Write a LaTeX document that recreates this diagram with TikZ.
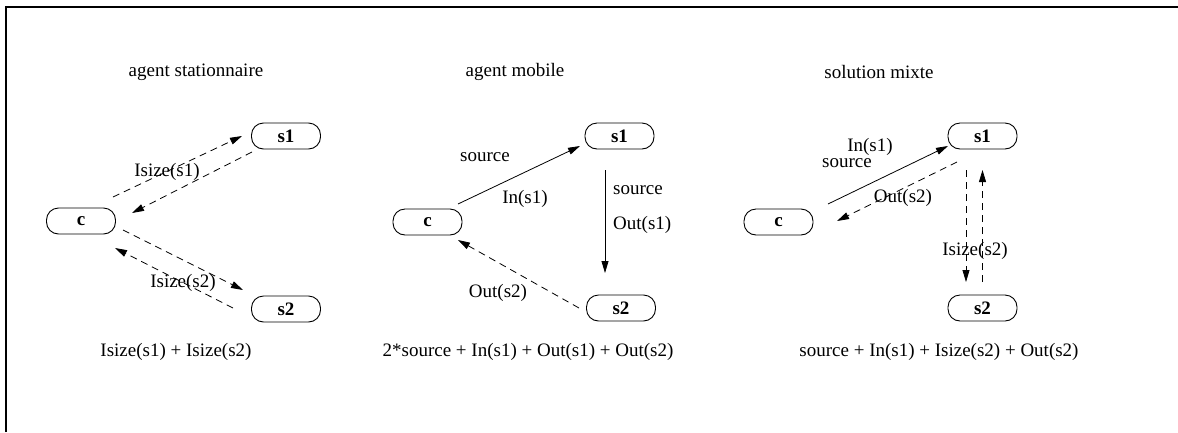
\documentclass[tikz,border=0pt]{standalone}
\usepackage{fontspec}
\setmainfont{Liberation Serif}
\usetikzlibrary{arrows.meta,calc}
\tikzset{
  host/.style={draw, line width=0.9pt, rounded corners=12pt, minimum width=69pt,
    minimum height=26pt, inner sep=0pt, font=\fontsize{19}{22}\selectfont\bfseries},
  lbl/.style={inner sep=0pt, font=\fontsize{19}{22}\selectfont},
  msg/.style={line width=0.8pt, -{Triangle[length=12pt,width=7pt]}},
  dmsg/.style={msg, dash pattern=on 7pt off 5pt}
}
\begin{document}
\begin{tikzpicture}[x=1pt,y=-1pt]
\useasboundingbox (0,0) rectangle (1178,432);
% outer frame
\draw[line width=2.2pt] (6,432) -- (6,7) -- (1178,7);

% ---- agent stationnaire ----
\node[lbl] (t1) at (196,72) {agent stationnaire};
\node[host] (c1) at (81,221) {c};
\node[host] (s1a) at (286,136) {s1};
\node[host] (s2a) at (286,309) {s2};
\draw[dmsg] ($(c1)+(32,-24)$) -- ($(s1a)+(-44,0)$);
\draw[dmsg] ($(s1a)+(-34,16)$) -- ($(c1)+(51,-8)$);
\draw[dmsg] ($(c1)+(42,9)$) -- ($(s2a)+(-43,-19)$);
\draw[dmsg] ($(s2a)+(-53,-1)$) -- ($(c1)+(34,27)$);
\node[lbl] (l1) at (167,172) {Isize(s1)};
\node[lbl] (l2) at (183,283) {Isize(s2)};
\node[lbl] (f1) at (176,352) {Isize(s1) + Isize(s2)};

% ---- agent mobile ----
\node[lbl] (t2) at (515,72) {agent mobile};
\node[host] (c2) at (427.5,222) {c};
\node[host] (s1b) at (619.5,136) {s1};
\node[host] (s2b) at (621,308) {s2};
\draw[msg] ($(c2)+(30.5,-18)$) -- ($(s1b)+(-39.5,10)$);
\draw[msg] ($(s1b)+(-14.5,34)$) -- ($(s1b)+(-14.5,137)$);
\draw[dmsg] ($(s2b)+(-42,0)$) -- ($(c2)+(30.5,18)$);
\node[lbl] (l3) at (485,157) {source};
\node[lbl] (l4) at (525,199) {In(s1)};
\node[lbl, anchor=west] (l5) at (613,190) {source};
\node[lbl, anchor=west] (l6) at (613,225) {Out(s1)};
\node[lbl] (l7) at (498,293) {Out(s2)};
\node[lbl] (f2) at (528,352) {2*source + In(s1) + Out(s1) + Out(s2)};

% ---- solution mixte ----
\node[lbl] (t3) at (879,72) {solution mixte};
\node[host] (c3) at (778.5,222) {c};
\node[host] (s1c) at (982.5,136) {s1};
\node[host] (s2c) at (982.5,308) {s2};
\draw[msg] ($(c3)+(49.5,-18)$) -- ($(s1c)+(-34.5,10)$);
\draw[dmsg] ($(s1c)+(-25.5,26)$) -- ($(c3)+(58.5,-1)$);
\draw[dmsg] ($(s1c)+(-16.5,34)$) -- ($(s2c)+(-16.5,-26)$);
\draw[dmsg] ($(s2c)+(0,-26)$) -- ($(s1c)+(0,34)$);
\node[lbl] (l8) at (870,147) {In(s1)};
\node[lbl] (l9) at (847,163) {source};
\node[lbl] (l10) at (903,198) {Out(s2)};
\node[lbl] (l11) at (975,251) {Isize(s2)};
\node[lbl] (f3) at (939,352) {source + In(s1) + Isize(s2) + Out(s2)};
\end{tikzpicture}
\end{document}
